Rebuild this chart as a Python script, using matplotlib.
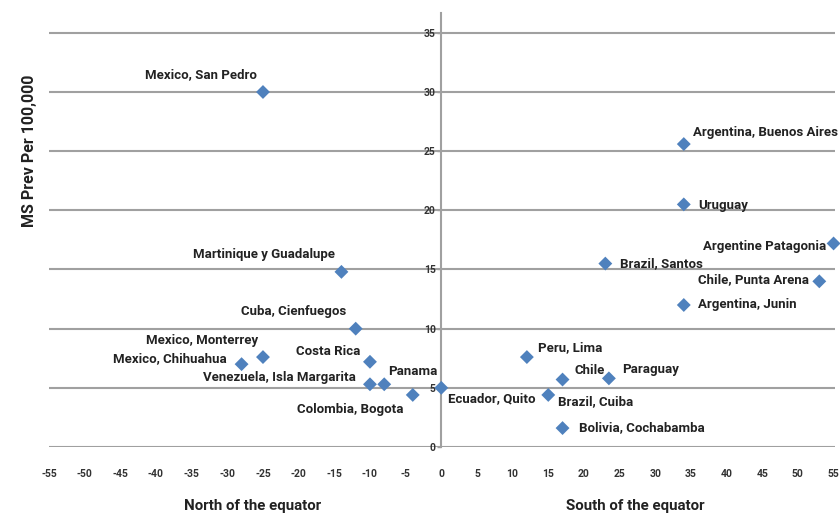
import matplotlib
matplotlib.use("Agg")
import matplotlib.pyplot as plt
from matplotlib import font_manager

names = ["Mexico, San Pedro", "Martinique y Guadalupe", "Cuba, Cienfuegos",
         "Mexico, Monterrey", "Mexico, Chihuahua", "Costa Rica",
         "Venezuela, Isla Margarita", "Panama", "Colombia, Bogota",
         "Ecuador, Quito", "Peru, Lima", "Chile", "Paraguay", "Brazil, Cuiba",
         "Bolivia, Cochabamba", "Brazil, Santos", "Argentina, Buenos Aires",
         "Uruguay", "Argentine Patagonia", "Chile, Punta Arena", "Argentina, Junin"]
latitude = [-25, -14, -12, -25, -28, -10, -10, -8, -4,
            0, 12, 17, 23.5, 15, 17, 23, 34, 34, 55, 53, 34]
prevalence = [30, 14.8, 10, 7.6, 7.0, 7.2, 5.3, 5.3, 4.4,
              5.0, 7.6, 5.7, 5.8, 4.4, 1.6, 15.5, 25.6, 20.5, 17.2, 14.0, 12.0]
xticks = list(range(-55, 60, 5))
yticks = list(range(0, 40, 5))

# label offsets in pixels and alignment (layout only)
label_pos = {
    "Mexico, San Pedro": (-6, 17, "right"),
    "Martinique y Guadalupe": (-6, 17, "right"),
    "Cuba, Cienfuegos": (-9, 17, "right"),
    "Mexico, Monterrey": (-5, 17, "right"),
    "Mexico, Chihuahua": (-15, 6, "right"),
    "Costa Rica": (-10, 10, "right"),
    "Venezuela, Isla Margarita": (-14, 7, "right"),
    "Panama": (4, 13, "left"),
    "Colombia, Bogota": (-9, -15, "right"),
    "Ecuador, Quito": (7, -11, "left"),
    "Peru, Lima": (11, 9, "left"),
    "Chile": (12, 9, "left"),
    "Paraguay": (13, 9, "left"),
    "Brazil, Cuiba": (10, -7, "left"),
    "Bolivia, Cochabamba": (16, 0, "left"),
    "Brazil, Santos": (15, 0, "left"),
    "Argentina, Buenos Aires": (9, 12, "left"),
    "Uruguay": (14, -1, "left"),
    "Argentine Patagonia": (-7, -3, "right"),
    "Chile, Punta Arena": (-10, 2, "right"),
    "Argentina, Junin": (14, 0, "left"),
}

avail = {f.name for f in font_manager.fontManager.ttflist}
fam = [f for f in ["Roboto", "Open Sans", "DejaVu Sans"] if f in avail]
plt.rcParams['font.family'] = fam

fig = plt.figure(figsize=(8.4, 5.13), dpi=100)
ax = fig.add_axes([49/840, 1-447/513, 786/840, (447-12.7)/513])
ax.set_xlim(-55, 55.2)
ax.set_ylim(0, 36.7)

ax.grid(axis='y', color='#a0a0a0', linewidth=1.5)
ax.set_axisbelow(True)
for s in ['top', 'right', 'bottom']:
    ax.spines[s].set_visible(False)
ax.spines['left'].set_position(('data', 0))
ax.spines['left'].set_color('#a0a0a0')
ax.spines['left'].set_linewidth(1.5)

ax.scatter(latitude, prevalence, marker='D', s=50, color='#4F81BD',
           edgecolors='none', zorder=5, clip_on=False)

for n, x, y in zip(names, latitude, prevalence):
    dx, dy, ha = label_pos[n]
    ax.annotate(n, (x, y), xytext=(dx, dy), textcoords='offset pixels',
                ha=ha, va='center', fontsize=9.5, fontweight='bold',
                color='#222222', zorder=6)

ax.set_xticks(xticks)
ax.set_xticklabels([str(v) for v in xticks])
ax.set_yticks(yticks)
ax.set_yticklabels([str(v) for v in yticks])
ax.tick_params(axis='x', length=0, pad=16, labelsize=7.5, labelcolor='#333333')
ax.tick_params(axis='y', length=3, width=1, color='#a0a0a0', pad=1,
               labelsize=7.5, labelcolor='#333333')
for t in ax.get_xticklabels() + ax.get_yticklabels():
    t.set_fontweight('bold')

fig.text(30/840, 1-151/513, "MS Prev Per 100,000", rotation=90, ha='center',
         va='center', fontsize=11.5, fontweight='bold', color='#222222')
fig.text(253/840, 1-506/513, "North of the equator", ha='center', va='center',
         fontsize=10.8, fontweight='bold', color='#222222')
fig.text(635/840, 1-506/513, "South of the equator", ha='center', va='center',
         fontsize=10.8, fontweight='bold', color='#222222')

fig.savefig("out.png", dpi=100)
